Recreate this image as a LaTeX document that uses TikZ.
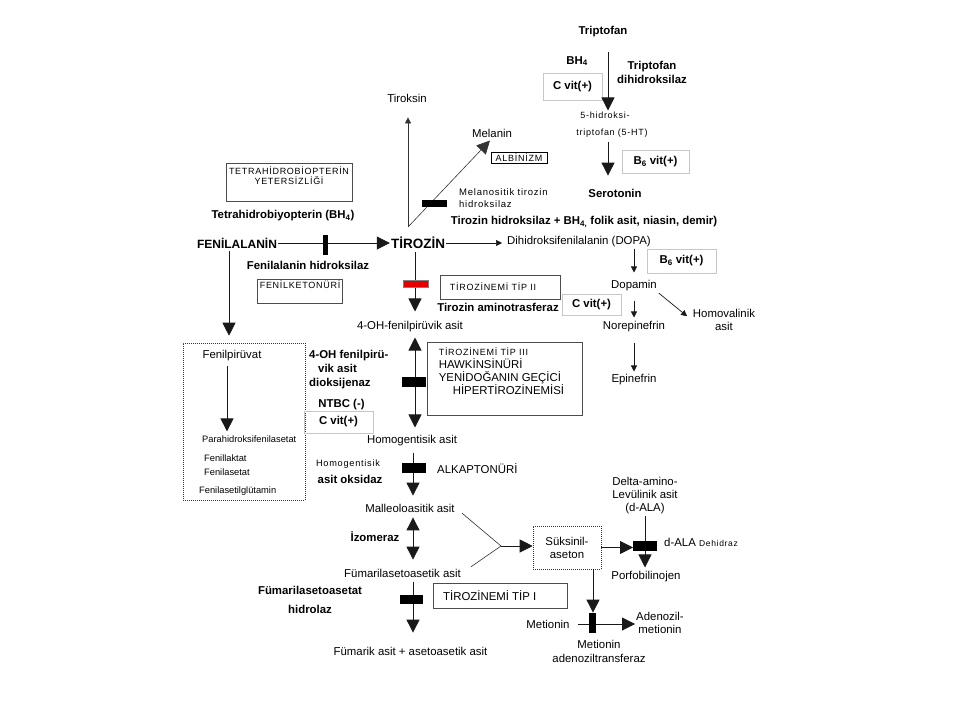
\documentclass[tikz,border=0pt]{standalone}
\usepackage{fontspec}
\setmainfont{Liberation Sans}
\newfontfamily\spacedfont[LetterSpace=8]{Liberation Sans}
\usetikzlibrary{arrows.meta,positioning}

\begin{document}
\begin{tikzpicture}[x=1pt,y=-1pt,
	lbl/.style={font=\fontsize{11.4}{13}\selectfont, inner sep=1pt},
	blbl/.style={font=\bfseries\fontsize{11.4}{14}\selectfont, inner sep=1pt},
	smlbl/.style={font=\spacedfont\fontsize{9}{10}\selectfont, inner sep=1pt},
	listlbl/.style={font=\fontsize{9.3}{11}\selectfont, inner sep=1pt, anchor=west},
	vitbox/.style={draw=black!22, line width=0.6pt, inner sep=1pt, font=\bfseries\fontsize{11.4}{13}\selectfont},
	infobox/.style={draw=black!70, line width=0.8pt},
	dotbox/.style={draw=black!80, line width=0.6pt, dash pattern=on 1pt off 1pt},
	bigarr/.style={-{Triangle[width=13pt,length=13pt]}, line width=0.8pt, color=black!90},
	smallarr/.style={-{Triangle[width=6pt,length=6pt]}, line width=0.7pt, color=black!90},
	dblarr/.style={{Triangle[width=13pt,length=13pt]}-{Triangle[width=13pt,length=13pt]}, line width=0.8pt, color=black!90},
	hbar/.style={fill=black, inner sep=0pt, minimum width=24pt, minimum height=10pt},
	vbar/.style={fill=black, inner sep=0pt, minimum width=6pt, minimum height=20pt}]
			%%%%% START %%%%%
			\path[fill=white, use as bounding box] (0,0) rectangle (960,720);
			
			% triptofan
			\node[blbl] (trp) at (603,32) {Triptofan};
			\node[blbl] (bh4) at (577,61) {BH\textsubscript{4}};
			\node[blbl, align=center] (tdh) at (652,72) {Triptofan\\dihidroksilaz};
			\node[vitbox, minimum width=59pt, minimum height=27pt] (cvit1) at (572.5,86.5) {C vit(+)};
			\node[smlbl] (htp1) at (605,115) {5-hidroksi-};
			\node[smlbl] (htp2) at (612,133) {triptofan (5-HT)};
			\node[vitbox, minimum width=67pt, minimum height=23pt] (b6a) at (655.5,161.5) {B\textsubscript{6} vit(+)};
			\node[blbl] (sero) at (615,193) {Serotonin};
			
			\draw[bigarr, shorten <=13pt] ([xshift=5pt]trp.south) -- ([xshift=3pt]htp1.north);
			\draw[bigarr, shorten <=4pt, shorten >=12pt] ([xshift=-4pt]htp2.south) -- ([xshift=-7pt]sero.north);
			
			% tiroksin, melanin
			\node[blbl, font=\bfseries\fontsize{13.5}{15}\selectfont] (tir) at (418,243) {TİROZİN};
			\node[lbl] (tiroks) at (407,98) {Tiroksin};
			\node[lbl] (melanin) at (492,133) {Melanin};
			\node[smlbl, draw=black, line width=0.6pt, inner sep=1.5pt, minimum width=56pt] (albz) at (519,158) {ALBİNİZM};
			\node[smlbl, font=\spacedfont\fontsize{9.5}{12}\selectfont, align=left, anchor=west] (mth) at (458,198) {Melanositik tirozin\\hidroksilaz};
			
			\coordinate (tirup) at (408,227);
			\draw[smallarr, line width=0.6pt, color=black!80, shorten >=14pt] (tirup) -- (tirup |- tiroks.south);
			\draw[bigarr, line width=0.6pt, color=black!80, shorten >=3pt] (tirup) -- (melanin.south);
			\node[hbar, minimum width=25pt, minimum height=7pt] (mthbar) at (434,203.5) {};
			
			% fenilalanin
			\node[infobox, minimum width=126pt, minimum height=38pt] (tetrabox) at (289,182) {};
			\node[smlbl, align=center, below=3pt of tetrabox.north] (tetra) {TETRAHİDROBİOPTERİN\\YETERSİZLİĞİ};
			\node[blbl] (bh4l) at (283,216) {Tetrahidrobiyopterin (BH\textsubscript{4})};
			\node[blbl, font=\bfseries\fontsize{12}{14}\selectfont] (fen) at (237,243) {FENİLALANİN};
			\node[blbl] (fhl) at (308,265) {Fenilalanin hidroksilaz};
			\node[infobox, minimum width=85pt, minimum height=24pt] (fktbox) at (299.5,291) {};
			\node[smlbl, anchor=north west] (fkt) at ([xshift=2pt,yshift=-1pt]fktbox.north west) {FENİLKETONÜRİ};
			
			\draw[bigarr] (fen.east) -- (fen.east -| tir.west);
			\node[vbar, minimum width=5pt] (fhbar) at (325.5,245) {};
			
			% dopa
			\node[blbl] (thl) at (584,222) {Tirozin hidroksilaz + BH\textsubscript{4,} folik asit, niasin, demir)};
			\node[lbl] (dopa) at (579,242) {Dihidroksifenilalanin (DOPA)};
			\node[vitbox, minimum width=69pt, minimum height=24pt] (b6b) at (681.5,261) {B\textsubscript{6} vit(+)};
			\node[lbl] (dopamin) at (634,286) {Dopamin};
			\node[vitbox, minimum width=59pt, minimum height=21pt] (cvit2) at (591.5,304.5) {C vit(+)};
			\node[lbl] (norep) at (634,327) {Norepinefrin};
			\node[lbl, align=center] (homoval) at (724,320) {Homovalinik\\asit};
			\node[lbl] (epin) at (634,380) {Epinefrin};
			
			\draw[smallarr, shorten >=4pt] (tir.east) -- (tir.east -| dopa.west);
			\draw[smallarr, shorten >=7pt] (dopamin.north |- dopa.south) -- (dopamin.north);
			\draw[smallarr, shorten <=8pt, shorten >=3pt] (dopamin.south) -- (norep.north);
			\draw[smallarr, shorten <=1pt, shorten >=6pt] (dopamin.south east) -- (homoval.west);
			\draw[smallarr, shorten <=9pt, shorten >=2pt] (norep.south) -- (epin.north);
			
			% tirozin aminotransferaz
			\node[lbl] (ohfp) at (410,327) {4-OH-fenilpirüvik asit};
			\node[infobox, minimum width=120pt, minimum height=24pt] (tip2box) at (500,287) {};
			\node[smlbl] (tip2) at (493,287) {TİROZİNEMİ TİP II};
			\node[blbl] (tatl) at (498,307) {Tirozin aminotrasferaz};
			
			\draw[bigarr, shorten <=2pt, shorten >=9pt] ([xshift=-3pt]tir.south) -- ([xshift=-3pt]tir.south |- ohfp.north);
			\node[hbar, fill=red!90!black, draw=black!50, line width=0.4pt, minimum width=25pt, minimum height=7pt] (redbar) at (415.5,283.5) {};
			
			% fenilpiruvat
			\node[dotbox, minimum width=122pt, minimum height=157pt] (fpbox) at (244,421.5) {};
			\node[lbl] (fpv) at (232,356) {Fenilpirüvat};
			\node[listlbl] (phfa) at (201,439) {Parahidroksifenilasetat};
			\node[listlbl] (flak) at (203,458) {Fenillaktat};
			\node[listlbl] (fas) at (203,472) {Fenilasetat};
			\node[listlbl] (fag) at (198,491) {Fenilasetilglütamin};
			
			\draw[bigarr, shorten <=2pt, shorten >=7pt] ([xshift=-8pt]fen.south) -- ([xshift=-8pt]fen.south |- fpbox.north);
			\draw[bigarr, shorten <=3pt, shorten >=3pt] ([xshift=-5pt]fpv.south) -- ([xshift=-5pt]fpv.south |- phfa.north);
			
			% homogentisik asit
			\node[lbl] (hga) at (412,441) {Homogentisik asit};
			\node[blbl, align=left, anchor=west] (hppd) at (308,370) {4-OH fenilpirü-\\\hspace*{9pt}vik asit\\dioksijenaz};
			\node[blbl] (ntbc) at (341.5,405) {NTBC (-)};
			\node[vitbox, minimum width=69pt, minimum height=22pt] (cvit3) at (338.5,422) {C vit(+)};
			\node[infobox, minimum width=155pt, minimum height=73pt] (tip3box) at (504.5,378.5) {};
			\node[lbl, align=left, anchor=north west] (tip3) at ([xshift=11pt,yshift=-5pt]tip3box.north west) {{\spacedfont\fontsize{9}{10}\selectfont TİROZİNEMİ TİP III}\\HAWKİNSİNÜRİ\\YENİDOĞANIN GEÇİCİ\\\hspace*{14pt}HİPERTİROZİNEMİSİ};
			
			\draw[dblarr, shorten <=4pt, shorten >=7pt] ([xshift=5pt]ohfp.south) -- ([xshift=5pt]ohfp.south |- hga.north);
			\node[hbar] (hppdbar) at (414,382) {};
			
			% alkaptonuri
			\node[smlbl, font=\spacedfont\fontsize{9.2}{10}\selectfont] (hgdl1) at (348,464) {Homogentisik};
			\node[blbl] (hgdl2) at (350,479) {asit oksidaz};
			\node[lbl, anchor=west] (aku) at (436,469) {ALKAPTONÜRİ};
			\node[lbl] (mal) at (410,508) {Malleoloasitik asit};
			
			\draw[bigarr, shorten <=5pt, shorten >=7pt] ([xshift=1pt]hga.south) -- ([xshift=1pt]hga.south |- mal.north);
			\node[hbar] (akubar) at (414,468) {};
			
			% izomeraz, hidrolaz
			\node[blbl] (izo) at (375,537) {İzomeraz};
			\node[lbl] (fum) at (402.5,573) {Fümarilasetoasetik asit};
			\node[blbl, font=\bfseries\fontsize{11.4}{19}\selectfont, align=center] (fah) at (310,600) {Fümarilasetoasetat\\hidrolaz};
			\node[infobox, minimum width=134pt, minimum height=25pt] (tip1box) at (500,595.5) {};
			\node[lbl, anchor=west] (tip1) at (442,596) {TİROZİNEMİ TİP I};
			\node[lbl] (fumar) at (410.5,651) {Fümarik asit + asetoasetik asit};
			
			\draw[dblarr, shorten <=4pt, shorten >=8pt] ([xshift=3pt]mal.south) -- ([xshift=3pt]mal.south |- fum.north);
			\draw[bigarr, shorten <=4pt, shorten >=13pt] ([xshift=10.5pt]fum.south) -- ([xshift=10.5pt]fum.south |- fumar.north);
			\node[hbar, minimum width=23pt, minimum height=9pt] (fahbar) at (411.5,599.5) {};
			
			% suksinil-aseton
			\coordinate (jn) at (501,546);
			\node[dotbox, lbl, align=center, minimum width=68pt, minimum height=43pt] (suk) at (567,547.5) {Süksinil-\\aseton};
			\node[lbl, align=center] (dala) at (645,496) {Delta-amino-\\Levülinik asit\\(d-ALA)};
			\node[lbl, anchor=west] (daladh) at (663,542) {d-ALA {\spacedfont\fontsize{8.5}{10}\selectfont Dehidraz}};
			\node[lbl] (porf) at (646,577) {Porfobilinojen};
			\node[lbl] (met) at (548,624) {Metionin};
			\node[lbl, align=center] (adm) at (660,622.5) {Adenozil-\\metionin};
			\node[lbl, font=\fontsize{11.4}{14}\selectfont, align=center] (matl) at (599,651) {Metionin\\adenoziltransferaz};
			
			\draw[line width=0.6pt, color=black!80, shorten <=8pt] (mal.east) -- (jn);
			\draw[line width=0.6pt, color=black!80, shorten <=11pt] (fum.east) -- (jn);
			\draw[bigarr] (jn) -- (jn -| suk.west);
			\draw[bigarr, shorten >=12pt] (suk.east) -- (suk.east -| dala.south);
			\draw[bigarr, shorten >=3pt] (dala.south) -- (dala.south |- porf.north);
			\node[hbar] (dalabar) at (645,546) {};
			
			\draw[bigarr, shorten >=6pt] ([xshift=26pt]suk.south) -- ([xshift=26pt]suk.south |- met.north);
			\draw[bigarr, shorten <=7pt] (met.east) -- (met.east -| adm.west);
			\node[vbar, minimum width=7pt] (matbar) at (592.5,623) {};
			
			%%%%% END %%%%%
		\end{tikzpicture}
\end{document}
